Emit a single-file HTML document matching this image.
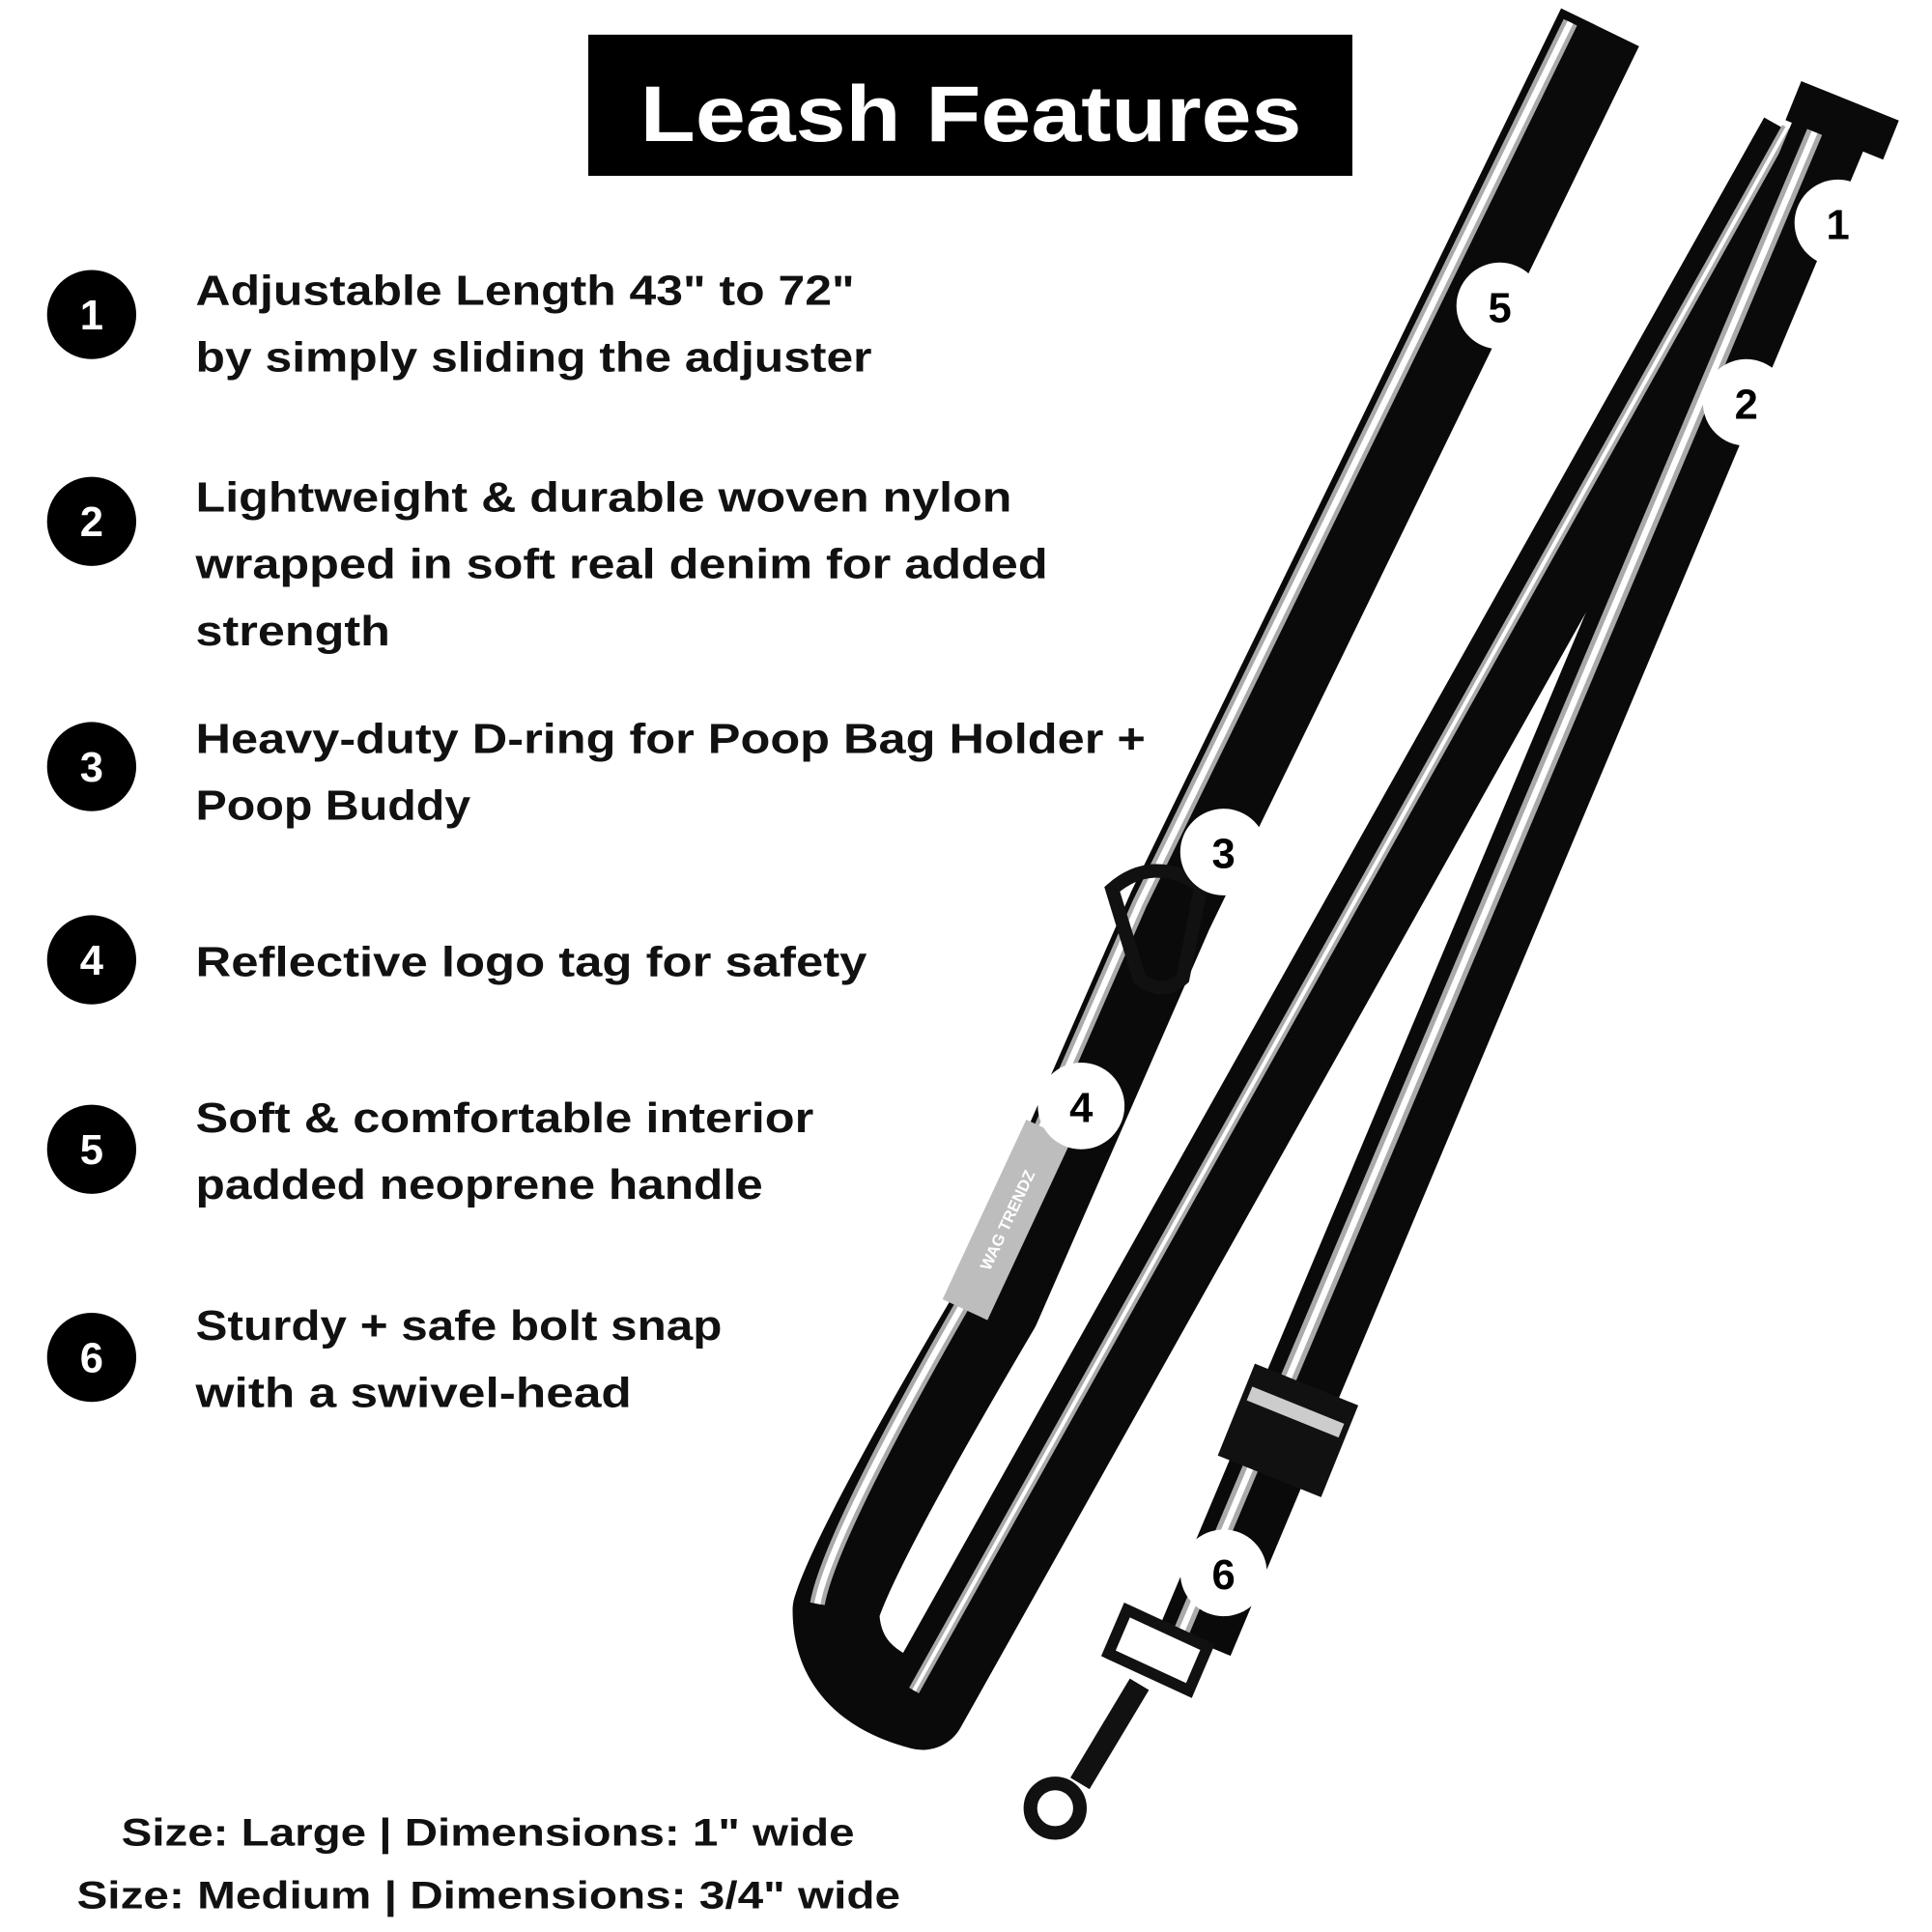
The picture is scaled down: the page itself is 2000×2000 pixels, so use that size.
<!DOCTYPE html>
<html><head><meta charset="utf-8"><style>
html,body{margin:0;padding:0;background:#fff}
svg{display:block}
text{font-family:"Liberation Sans",sans-serif;font-weight:bold}
</style></head><body>
<svg width="2000" height="2000" viewBox="0 0 1560 1560" xmlns="http://www.w3.org/2000/svg">
<rect width="1560" height="1560" fill="#fff"/>
<rect x="475" y="28" width="617" height="114" fill="#000"/>
<text x="517" y="114" font-size="64" fill="#fff" textLength="534" lengthAdjust="spacingAndGlyphs">Leash Features</text>

<g fill="none" stroke-linecap="butt" stroke-linejoin="round">
  <!-- handle + loop + long return strap -->
  <path d="M1292,22 L945,735 L805,1055 Q690,1250 675,1300 Q675,1360 745,1378 L1455,112" stroke="#0a0a0a" stroke-width="70"/>
  <path d="M1268,18 L920,730 L782,1045 Q670,1240 660,1295" stroke="#aaa" stroke-width="12"/>
  <path d="M1268,18 L920,730 L782,1045 Q670,1240 660,1295" stroke="#fff" stroke-width="5"/>
  <path d="M738,1365 L1443,103" stroke="#aaa" stroke-width="9"/>
  <path d="M738,1365 L1443,103" stroke="#fff" stroke-width="3"/>
  <!-- adjuster strap -->
  <path d="M1478,105 L965,1325" stroke="#0a0a0a" stroke-width="62"/>
  <path d="M1468,100 L952,1322" stroke="#aaa" stroke-width="13"/>
  <path d="M1468,100 L952,1322" stroke="#fff" stroke-width="5"/>
</g>
<rect x="1445" y="80" width="85" height="34" fill="#0a0a0a" transform="rotate(22 1487 97)"/>
<rect x="995" y="1115" width="90" height="80" fill="#111" transform="rotate(22 1040 1155)"/>
<rect x="1000" y="1133" width="80" height="12" fill="#ccc" transform="rotate(22 1040 1155)"/>
<rect x="793" y="905" width="40" height="160" fill="#bdbdbd" transform="rotate(25 813 985)"/>
<text x="813" y="990" font-size="13" fill="#fff" text-anchor="middle" transform="rotate(-65 813 985)">WAG TRENDZ</text>
<path d="M898,718 Q930,690 970,715 L955,790 Q938,805 920,790 Z" fill="none" stroke="#111" stroke-width="11"/>
<path d="M910,1300 L975,1330 L960,1365 L895,1335 Z" fill="none" stroke="#111" stroke-width="9"/>
<path d="M920,1360 L872,1440" stroke="#111" stroke-width="18"/>
<circle cx="852" cy="1460" r="20" fill="none" stroke="#111" stroke-width="11"/>

<g font-size="34" text-anchor="middle">
  <circle cx="1484" cy="180" r="35" fill="#fff"/><text x="1484" y="193">1</text>
  <circle cx="1410" cy="325" r="35" fill="#fff"/><text x="1410" y="338">2</text>
  <circle cx="1211" cy="247" r="35" fill="#fff"/><text x="1211" y="260">5</text>
  <circle cx="988" cy="688" r="35" fill="#fff"/><text x="988" y="701">3</text>
  <circle cx="873" cy="893" r="35" fill="#fff"/><text x="873" y="906">4</text>
  <circle cx="988" cy="1270" r="35" fill="#fff"/><text x="988" y="1283">6</text>
</g>

<g font-size="34" text-anchor="middle" fill="#fff">
  <circle cx="74" cy="254" r="36" fill="#000"/><text x="74" y="266">1</text>
  <circle cx="74" cy="421" r="36" fill="#000"/><text x="74" y="433">2</text>
  <circle cx="74" cy="619" r="36" fill="#000"/><text x="74" y="631">3</text>
  <circle cx="74" cy="775" r="36" fill="#000"/><text x="74" y="787">4</text>
  <circle cx="74" cy="928" r="36" fill="#000"/><text x="74" y="940">5</text>
  <circle cx="74" cy="1096" r="36" fill="#000"/><text x="74" y="1108">6</text>
</g>
<g font-size="34" fill="#111" lengthAdjust="spacingAndGlyphs">
  <text x="158" y="246" textLength="532" lengthAdjust="spacingAndGlyphs">Adjustable Length 43" to 72"</text>
  <text x="158" y="300" textLength="546" lengthAdjust="spacingAndGlyphs">by simply sliding the adjuster</text>
  <text x="158" y="413" textLength="659" lengthAdjust="spacingAndGlyphs">Lightweight &amp; durable woven nylon</text>
  <text x="158" y="467" textLength="688" lengthAdjust="spacingAndGlyphs">wrapped in soft real denim for added</text>
  <text x="158" y="521" textLength="157" lengthAdjust="spacingAndGlyphs">strength</text>
  <text x="158" y="608" textLength="767" lengthAdjust="spacingAndGlyphs">Heavy-duty D-ring for Poop Bag Holder +</text>
  <text x="158" y="662" textLength="222" lengthAdjust="spacingAndGlyphs">Poop Buddy</text>
  <text x="158" y="788" textLength="542" lengthAdjust="spacingAndGlyphs">Reflective logo tag for safety</text>
  <text x="158" y="914" textLength="499" lengthAdjust="spacingAndGlyphs">Soft &amp; comfortable interior</text>
  <text x="158" y="968" textLength="458" lengthAdjust="spacingAndGlyphs">padded neoprene handle</text>
  <text x="158" y="1082" textLength="425" lengthAdjust="spacingAndGlyphs">Sturdy + safe bolt snap</text>
  <text x="158" y="1136" textLength="352" lengthAdjust="spacingAndGlyphs">with a swivel-head</text>
</g>
<g font-size="31" fill="#111">
  <text x="98" y="1490" textLength="592" lengthAdjust="spacingAndGlyphs">Size: Large | Dimensions:  1" wide</text>
  <text x="62" y="1541" textLength="665" lengthAdjust="spacingAndGlyphs">Size: Medium | Dimensions: 3/4" wide</text>
</g>
</svg>
</body></html>
